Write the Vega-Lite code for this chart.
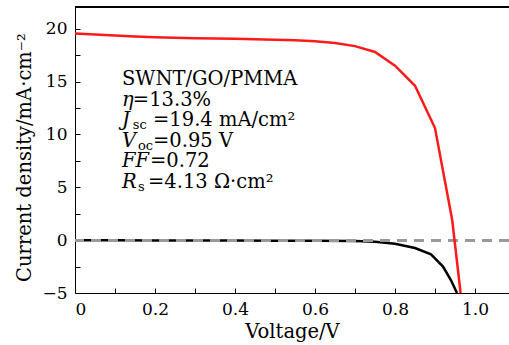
{
  "$schema": "https://vega.github.io/schema/vega-lite/v6.json",
  "width": 434,
  "height": 286,
  "autosize": "none",
  "padding": {"left": 75, "top": 7, "right": 0, "bottom": 52},
  "background": "white",
  "config": {
    "view": {"stroke": null},
    "font": "DejaVu Serif",
    "axis": {
      "domainColor": "black",
      "domainWidth": 1,
      "tickColor": "black",
      "tickWidth": 1,
      "grid": false,
      "labelFont": "DejaVu Serif",
      "labelFontSize": 17,
      "labelColor": "black",
      "titleFont": "DejaVu Serif",
      "titleFontSize": 19.5,
      "titleFontWeight": "normal",
      "titleColor": "black"
    }
  },
  "datasets": {
    "light": [
      {"v": 0, "j": 19.55}, {"v": 0.05, "j": 19.45}, {"v": 0.1, "j": 19.35}, {"v": 0.15, "j": 19.27},
      {"v": 0.2, "j": 19.2}, {"v": 0.25, "j": 19.15}, {"v": 0.3, "j": 19.1}, {"v": 0.35, "j": 19.08},
      {"v": 0.4, "j": 19.05}, {"v": 0.45, "j": 19.0}, {"v": 0.5, "j": 18.95}, {"v": 0.55, "j": 18.9},
      {"v": 0.6, "j": 18.8}, {"v": 0.65, "j": 18.65}, {"v": 0.7, "j": 18.35}, {"v": 0.75, "j": 17.8},
      {"v": 0.8, "j": 16.5}, {"v": 0.85, "j": 14.6}, {"v": 0.9, "j": 10.6}, {"v": 0.943, "j": 1.9},
      {"v": 0.964, "j": -5}
    ],
    "dark": [
      {"v": 0, "j": -0.02}, {"v": 0.1, "j": -0.02}, {"v": 0.2, "j": -0.03}, {"v": 0.3, "j": -0.03},
      {"v": 0.4, "j": -0.04}, {"v": 0.5, "j": -0.05}, {"v": 0.6, "j": -0.06}, {"v": 0.7, "j": -0.09},
      {"v": 0.75, "j": -0.15}, {"v": 0.8, "j": -0.35}, {"v": 0.85, "j": -0.75}, {"v": 0.89, "j": -1.35},
      {"v": 0.92, "j": -2.5}, {"v": 0.94, "j": -3.8}, {"v": 0.955, "j": -5}
    ],
    "notes": [
      {"v": 0.1175, "j": 14.66, "text": "SWNT/GO/PMMA", "part": "main"},
      {"v": 0.1175, "j": 12.72, "text": "η", "part": "ital"},
      {"v": 0.1445, "j": 12.72, "text": "=13.3%", "part": "main"},
      {"v": 0.1175, "j": 10.78, "text": "J", "part": "ital"},
      {"v": 0.1445, "j": 10.78, "text": "sc", "part": "sub"},
      {"v": 0.195, "j": 10.78, "text": "=19.4 mA/cm²", "part": "main"},
      {"v": 0.1175, "j": 8.84, "text": "V", "part": "ital"},
      {"v": 0.1575, "j": 8.84, "text": "oc", "part": "sub"},
      {"v": 0.195, "j": 8.84, "text": "=0.95 V", "part": "main"},
      {"v": 0.1175, "j": 6.9, "text": "FF", "part": "ital"},
      {"v": 0.1875, "j": 6.9, "text": "=0.72", "part": "main"},
      {"v": 0.1175, "j": 4.96, "text": "R", "part": "ital"},
      {"v": 0.1575, "j": 4.96, "text": "s", "part": "sub"},
      {"v": 0.1825, "j": 4.96, "text": "=4.13 Ω·cm²", "part": "main"}
    ]
  },
  "encoding": {
    "x": {
      "field": "v", "type": "quantitative",
      "scale": {"domain": [0, 1.085], "nice": false, "zero": false},
      "axis": {
        "title": "Voltage/V",
        "values": [0, 0.1, 0.2, 0.3, 0.4, 0.5, 0.6, 0.7, 0.8, 0.9, 1.0],
        "labelExpr": "(round(datum.value*10) % 2 == 1) ? '' : (datum.value == 0 ? '0' : format(datum.value, '.1f'))",
        "ticks": true,
        "tickSize": -5,
        "labelPadding": 13,
        "titleY": 44,
        "titleBaseline": "alphabetic"
      }
    },
    "y": {
      "field": "j", "type": "quantitative",
      "scale": {"domain": [-5, 22.05], "nice": false, "zero": false},
      "axis": {
        "title": "Current density/mA·cm⁻²",
        "values": [-5, -2.5, 0, 2.5, 5, 7.5, 10, 12.5, 15, 17.5, 20],
        "labelExpr": "(datum.value % 5 != 0) ? '' : replace(format(datum.value, 'd'), '-', '−')",
        "ticks": true,
        "tickSize": -5,
        "labelPadding": 13,
        "titleX": -45,
        "titleY": 150,
        "titleBaseline": "alphabetic"
      }
    }
  },
  "layer": [
    {
      "data": {"name": "dark"},
      "mark": {"type": "line", "color": "black", "strokeWidth": 2.5},
      "encoding": {}
    },
    {
      "data": {"name": "dark"},
      "mark": {"type": "rule", "color": "#999999", "strokeWidth": 2.5, "strokeDash": [10, 7]},
      "encoding": {"x": null, "y": {"datum": 0}}
    },
    {
      "data": {"name": "light"},
      "mark": {"type": "line", "color": "#ff1a1a", "strokeWidth": 2.5},
      "encoding": {}
    },
    {
      "data": {"name": "dark"},
      "mark": {"type": "rule", "color": "black", "strokeWidth": 1},
      "encoding": {"x": null, "y": {"datum": 22.05}}
    },
    {
      "data": {"name": "notes"},
      "transform": [{"filter": "datum.part == 'main'"}],
      "mark": {"type": "text", "align": "left", "baseline": "alphabetic", "fontSize": 19.5, "color": "black"},
      "encoding": {"text": {"field": "text"}}
    },
    {
      "data": {"name": "notes"},
      "transform": [{"filter": "datum.part == 'ital'"}],
      "mark": {"type": "text", "align": "left", "baseline": "alphabetic", "fontSize": 19.5, "fontStyle": "italic", "color": "black"},
      "encoding": {"text": {"field": "text"}}
    },
    {
      "data": {"name": "notes"},
      "transform": [{"filter": "datum.part == 'sub'"}],
      "mark": {"type": "text", "align": "left", "baseline": "alphabetic", "fontSize": 13, "dy": 3, "color": "black"},
      "encoding": {"text": {"field": "text"}}
    }
  ]
}
